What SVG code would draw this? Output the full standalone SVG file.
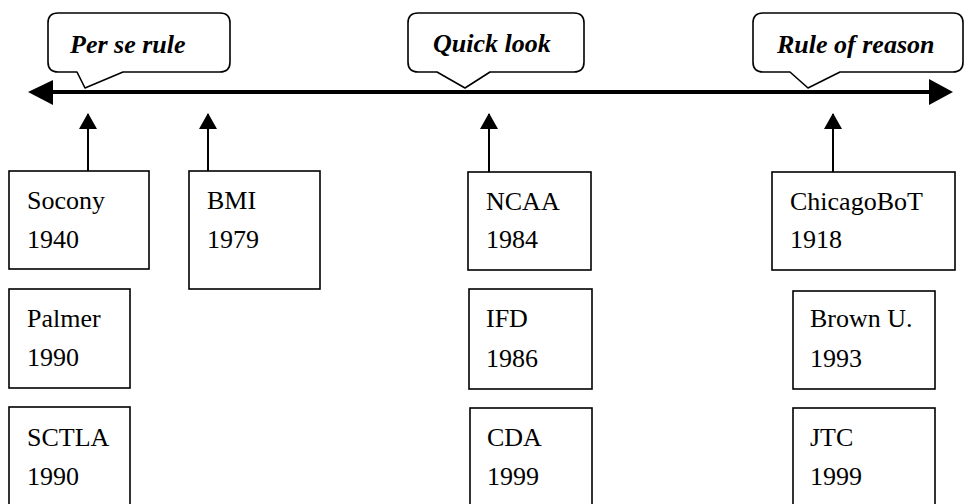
<svg xmlns="http://www.w3.org/2000/svg" width="964" height="504" viewBox="0 0 964 504">
<defs>
<style>
.box{fill:#fff;stroke:#000;stroke-width:1.6}
.call{fill:#fff;stroke:#000;stroke-width:1.6;stroke-linejoin:round}
.t{font-family:"Liberation Serif","Times New Roman",serif;font-size:26px;fill:#000}
.ct{font-family:"Liberation Serif","Times New Roman",serif;font-size:26px;font-weight:bold;font-style:italic;fill:#000}
.sh{stroke:#000;stroke-width:2;fill:none}
</style>
<marker id="up" viewBox="0 0 16 18" refX="15" refY="9" markerWidth="16" markerHeight="18" markerUnits="userSpaceOnUse" orient="auto">
<path d="M0,0 L16,9 L0,18 Z" fill="#000"/>
</marker>
</defs>
<rect width="964" height="504" fill="#fff"/>

<g id="connectors">
<line x1="50" y1="92" x2="932" y2="92" stroke="#000" stroke-width="4"/>
<path d="M28,92 L53,80 L53,105 Z" fill="#000"/>
<path d="M953,92 L929,79 L929,105 Z" fill="#000"/>
<line class="sh" x1="88" y1="171" x2="88" y2="114" marker-end="url(#up)"/>
<line class="sh" x1="208" y1="171" x2="208" y2="114" marker-end="url(#up)"/>
<line class="sh" x1="489" y1="172" x2="489" y2="114" marker-end="url(#up)"/>
<line class="sh" x1="833" y1="172" x2="833" y2="114" marker-end="url(#up)"/>
</g>

<g id="callout-perse">
<path class="call" d="M58,13 H220 Q230,13 230,23 V62 Q230,72 220,72 H123 L85,88 L77,72 H58 Q48,72 48,62 V23 Q48,13 58,13 Z"/>
<text class="ct" x="70" y="53">Per se rule</text>
</g>
<g id="callout-quick">
<path class="call" d="M418,13 H574 Q584,13 584,23 V62 Q584,72 574,72 H490 L465,88 L437,72 H418 Q408,72 408,62 V23 Q408,13 418,13 Z"/>
<text class="ct" x="433" y="52">Quick look</text>
</g>
<g id="callout-reason">
<path class="call" d="M763,13 H953 Q963,13 963,23 V62 Q963,72 953,72 H840 L808,88 L790,72 H763 Q753,72 753,62 V23 Q753,13 763,13 Z"/>
<text class="ct" x="777" y="53">Rule of reason</text>
</g>

<g id="socony">
<rect class="box" x="9" y="171" width="140" height="98"/>
<text class="t" x="27" y="209">Socony</text>
<text class="t" x="27" y="248">1940</text>
</g>
<g id="palmer">
<rect class="box" x="9" y="289" width="121" height="99"/>
<text class="t" x="27" y="327">Palmer</text>
<text class="t" x="27" y="366">1990</text>
</g>
<g id="sctla">
<rect class="box" x="9" y="407" width="121" height="110"/>
<text class="t" x="27" y="446">SCTLA</text>
<text class="t" x="27" y="485">1990</text>
</g>
<g id="bmi">
<rect class="box" x="189" y="171" width="131" height="118"/>
<text class="t" x="207" y="209">BMI</text>
<text class="t" x="207" y="248">1979</text>
</g>
<g id="ncaa">
<rect class="box" x="468" y="172" width="123" height="98"/>
<text class="t" x="486" y="210">NCAA</text>
<text class="t" x="486" y="248">1984</text>
</g>
<g id="ifd">
<rect class="box" x="469" y="289" width="123" height="100"/>
<text class="t" x="486" y="327">IFD</text>
<text class="t" x="486" y="367">1986</text>
</g>
<g id="cda">
<rect class="box" x="470" y="408" width="122" height="110"/>
<text class="t" x="487" y="446">CDA</text>
<text class="t" x="487" y="485">1999</text>
</g>
<g id="chicagobot">
<rect class="box" x="772" y="172" width="183" height="98"/>
<text class="t" x="790" y="210">ChicagoBoT</text>
<text class="t" x="790" y="248">1918</text>
</g>
<g id="brown">
<rect class="box" x="793" y="291" width="142" height="98"/>
<text class="t" x="810" y="327">Brown U.</text>
<text class="t" x="810" y="367">1993</text>
</g>
<g id="jtc">
<rect class="box" x="793" y="408" width="142" height="110"/>
<text class="t" x="810" y="446">JTC</text>
<text class="t" x="810" y="485">1999</text>
</g>
</svg>
